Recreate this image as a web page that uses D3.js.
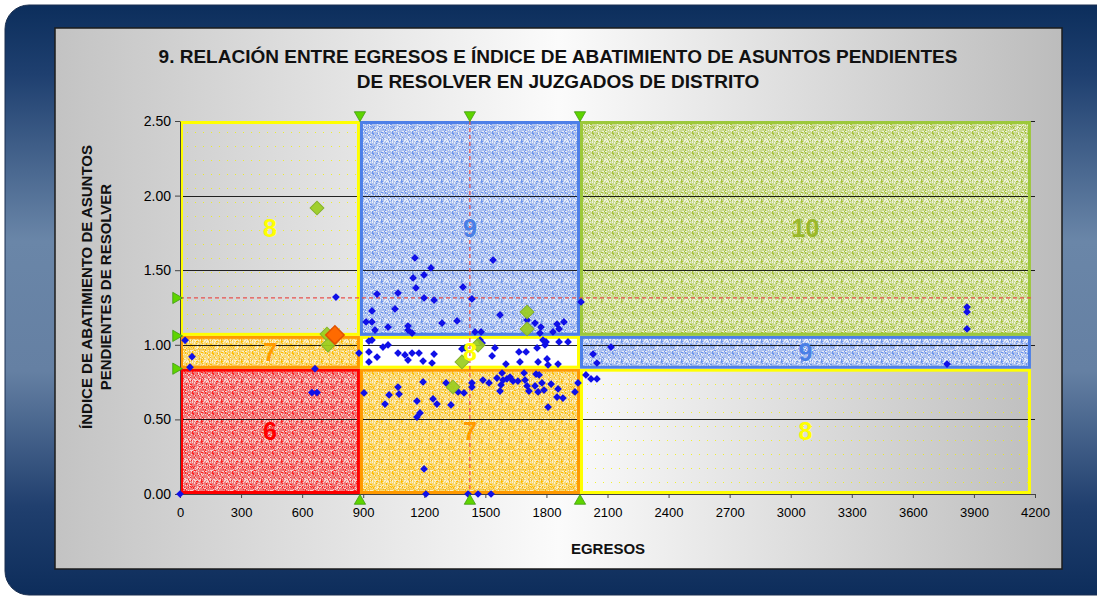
<!DOCTYPE html>
<html><head><meta charset="utf-8">
<script src="https://cdn.jsdelivr.net/npm/d3@7/dist/d3.min.js"></script>
<style>html,body{margin:0;padding:0;background:#fff;overflow:hidden}svg{display:block;font-family:Arial,"Liberation Sans",sans-serif}</style>
</head><body><svg id="chart" width="1097" height="598"></svg>
<script>
// ---------- DATA ----------
const titleLines = ["9. RELACIÓN ENTRE EGRESOS E ÍNDICE DE ABATIMIENTO DE ASUNTOS PENDIENTES", "DE RESOLVER EN JUZGADOS DE DISTRITO"];
const yTitleLines = ["ÍNDICE DE ABATIMIENTO DE ASUNTOS", "PENDIENTES DE RESOLVER"];
const xTitle = "EGRESOS";
const xTickValues = [0,300,600,900,1200,1500,1800,2100,2400,2700,3000,3300,3600,3900,4200];
const yTickValues = [0,0.5,1,1.5,2,2.5];
const xBounds = [0, 884, 1965, 4180];        // zone limits on EGRESOS
const yBounds = [0, 0.84, 1.06, 2.5];        // zone limits on índice
const zoneLabels = [["6","7","8"], ["7","8","9"], ["8","9","10"]]; // rows bottom→top, cols left→right
const meanX = 1424;
const meanY = 1.314;
const juzgados = [
 [25,1.03],[59,0.92],[49,0.85],[766,1.32],[761,1.08],[648,0.68],[673,0.68],[663,0.84],[879,0.945],[0,0],
 [1154,1.582],[1538,1.568],[1233,1.515],[1199,1.468],[1145,1.448],[1159,1.381],[1390,1.387],[968,1.340],[1071,1.347],[1199,1.314],
 [1248,1.300],[1434,1.307],[943,1.227],[1056,1.240],[1572,1.200],[1705,1.166],[1886,1.153],[914,1.153],[943,1.153],[1022,1.119],
 [1120,1.126],[1287,1.146],[1361,1.160],[958,1.099],[1744,1.146],[1773,1.119],[1852,1.139],[1862,1.106],[1832,1.086],[1120,1.099],
 [1449,1.086],[1479,1.086],[1140,1.079],[1970,1.287],[1768,1.079],
 [928,1.025],[943,1.032],[997,0.985],[1022,0.999],[928,0.952],[968,0.918],[928,0.885],[1071,0.945],[1105,0.932],[1120,0.898],
 [1140,0.945],[1174,0.945],[1194,0.891],[1238,0.878],[1248,0.938],[1385,0.972],[1400,0.979],[1474,1.032],[1484,1.012],[1533,0.925],
 [1547,0.979],[1601,0.871],[1665,0.952],[1700,0.952],[1670,0.885],[1754,0.979],[1759,0.885],[1793,0.999],[1798,1.019],[1783,1.032],
 [1803,0.905],[1808,0.865],[1862,1.019],[1906,1.019],[1857,0.871],
 [904,0.677],[1007,0.603],[1071,0.717],[1076,0.670],[1027,0.664],[1164,0.623],[1179,0.543],[1164,0.516],[1194,0.751],[1243,0.637],
 [1262,0.603],[1307,0.744],[1331,0.597],[1366,0.684],[1395,0.677],[1434,0.744],[1434,0.717],[1488,0.764],[1518,0.744],[1557,0.777],
 [1582,0.811],[1577,0.731],[1572,0.690],[1587,0.764],[1606,0.771],[1621,0.784],[1636,0.757],[1660,0.757],[1690,0.811],[1695,0.764],
 [1705,0.724],[1714,0.690],[1749,0.804],[1764,0.798],[1744,0.724],[1759,0.684],[1778,0.744],[1788,0.697],[1823,0.737],[1857,0.704],
 [1852,0.650],[1881,0.643],[1940,0.684],[1808,0.583],[1955,0.744],[1199,0.168],[1208,0],[1415,0],[1464,0],[1528,0],
 [2029,0.938],[2048,0.878],[2117,0.985],[3768,0.871],[3866,1.253],[3866,1.220],[3866,1.106],[1994,0.798],[2019,0.771],[2048,0.771]
];
const circuitos = [[673,1.917],[722,1.072],[727,0.998],[1705,1.220],[1705,1.106],[1464,0.998],[1385,0.885],[1341,0.717]];
const destacado = [[761,1.066]];

// ---------- LAYOUT ----------
const svg = d3.select("#chart");
const plot = {left:180, right:1035, top:121, bottom:494};
const x = d3.scaleLinear().domain([0,4200]).range([plot.left, plot.right]);
const y = d3.scaleLinear().domain([0,2.5]).range([plot.bottom, plot.top]);
const defs = svg.append("defs");

const fg = defs.append("linearGradient").attr("id","frameGrad").attr("x1",0).attr("y1",0).attr("x2",0).attr("y2",1);
[[0,"#0c2e5c"],[0.12,"#1f4070"],[0.4,"#6a86a8"],[0.62,"#6580a3"],[0.85,"#203f6e"],[1,"#0d2d5b"]].forEach(s=>fg.append("stop").attr("offset",s[0]).attr("stop-color",s[1]));
const pg = defs.append("linearGradient").attr("id","panelGrad").attr("x1",0).attr("y1",0).attr("x2",1).attr("y2",0);
[[0,"#c3c3c3"],[0.5,"#fbfbfb"],[1,"#bcbcbc"]].forEach(s=>pg.append("stop").attr("offset",s[0]).attr("stop-color",s[1]));

// speckled texture fills: average tone + light and dark speckles (deterministic sequence)
function speckle(id, base, light, dark, n){
  const p = defs.append("pattern").attr("id",id).attr("width",n).attr("height",n).attr("patternUnits","userSpaceOnUse");
  p.append("rect").attr("width",n).attr("height",n).attr("fill",base);
  let s = 20231;
  for(let j=0;j<n;j++) for(let i=0;i<n;i++){
    s = (s*1103515245 + 12345) % 2147483648;
    const v = Math.floor(s/65536)%100;
    if(v < 22) p.append("rect").attr("x",i).attr("y",j).attr("width",1).attr("height",1).attr("fill",light);
    else if(v > 80) p.append("rect").attr("x",i).attr("y",j).attr("width",1).attr("height",1).attr("fill",dark);
  }
}
speckle("spRed", "#ef7a7a", "#f9d0d0", "#ff2020", 20);
speckle("spOrange", "#f8d874", "#fcf0cc", "#ffbb00", 20);
speckle("spBlue", "#adc1ee", "#e6ecfa", "#6b93ec", 20);
speckle("spGreen", "#cbda92", "#eef2da", "#a5c238", 20);
(function(){
  const p = defs.append("pattern").attr("id","spYellow").attr("width",8).attr("height",14).attr("patternUnits","userSpaceOnUse");
  p.append("rect").attr("x",3).attr("y",6).attr("width",1).attr("height",1).attr("fill","#f2f200").attr("opacity",0.8);
  const g = defs.append("pattern").attr("id","gridOrange").attr("width",10).attr("height",10).attr("patternUnits","userSpaceOnUse");
  g.append("rect").attr("x",9).attr("y",0).attr("width",1).attr("height",10).attr("fill","rgba(240,165,0,0.35)");
  g.append("rect").attr("x",0).attr("y",9).attr("width",10).attr("height",1).attr("fill","rgba(240,165,0,0.25)");
})();

// frame + panel
svg.append("rect").attr("x",5).attr("y",5).attr("width",1120).attr("height",590).attr("rx",24).attr("fill","url(#frameGrad)").attr("stroke","#1a2f50").attr("stroke-width",1);
svg.append("rect").attr("x",55).attr("y",28).attr("width",1007).attr("height",541).attr("fill","url(#panelGrad)").attr("stroke","#1c1c1c").attr("stroke-width",1.5);

// title
svg.append("g").selectAll("text").data(titleLines).join("text")
  .attr("x",558).attr("y",(d,i)=>63+i*25).attr("text-anchor","middle")
  .attr("font-size",19).attr("font-weight","bold").attr("fill","#111").text(d=>d);

// zones
const styleFor = {
  "6":{fill:"url(#spRed)", stroke:"#ff0000", color:"#ff0000"},
  "7":{fill:"url(#spOrange)", stroke:"#ff9900", color:"#ff9a00"},
  "8":{fill:"url(#spYellow)", stroke:"#ffff00", color:"#ffff00"},
  "9":{fill:"url(#spBlue)", stroke:"#4d7fe8", color:"#4a7fe6"},
  "10":{fill:"url(#spGreen)", stroke:"#9cc83a", color:"#9ab82a"}
};
const zones = [];
zoneLabels.forEach((row,r)=>row.forEach((lab,c)=>zones.push({r,c,lab,white:(r===1&&lab==="8"),x0:xBounds[c],x1:xBounds[c+1],y0:yBounds[r],y1:yBounds[r+1]})));
const zx = d=>x(d.x0)+1, zy = d=>y(d.y1)+1, zw = d=>x(d.x1)-x(d.x0)-2, zh = d=>y(d.y0)-y(d.y1)-2;
svg.append("g").selectAll("rect").data(zones).join("rect")
  .attr("x",zx).attr("y",zy).attr("width",zw).attr("height",zh)
  .attr("fill",d=> d.white ? "#ffffff" : styleFor[d.lab].fill);
svg.append("g").selectAll("rect").data(zones.filter(d=>d.lab==="7")).join("rect")
  .attr("x",zx).attr("y",zy).attr("width",zw).attr("height",zh).attr("fill","url(#gridOrange)");

// gridlines
svg.append("g").selectAll("line").data(yTickValues.filter(v=>v>0)).join("line")
  .attr("x1",plot.left).attr("x2",plot.right).attr("y1",d=>Math.round(y(d))+0.5).attr("y2",d=>Math.round(y(d))+0.5)
  .attr("stroke","#000").attr("stroke-opacity",0.85).attr("stroke-width",1);

// zone borders
svg.append("g").selectAll("rect").data(zones).join("rect")
  .attr("x",d=>x(d.x0)+1.5).attr("y",d=>y(d.y1)+1.5)
  .attr("width",d=>x(d.x1)-x(d.x0)-3).attr("height",d=>y(d.y0)-y(d.y1)-3)
  .attr("fill","none").attr("stroke",d=>styleFor[d.lab].stroke).attr("stroke-width",3);

// mean lines
svg.append("line").attr("x1",x(0)).attr("x2",x(xBounds[3])).attr("y1",y(meanY)).attr("y2",y(meanY))
  .attr("stroke","#e8524f").attr("stroke-width",1.2).attr("stroke-dasharray","4,3");
svg.append("line").attr("x1",x(meanX)).attr("x2",x(meanX)).attr("y1",y(2.5)).attr("y2",y(0))
  .attr("stroke","#e8524f").attr("stroke-width",1.2).attr("stroke-dasharray","4,3");

// axes
const xAxis = d3.axisBottom(x).tickValues(xTickValues).tickSize(4).tickSizeOuter(0).tickFormat(d3.format("d"));
const gx = svg.append("g").attr("transform",`translate(0,${plot.bottom})`).call(xAxis);
gx.selectAll("text").attr("font-size",13).attr("fill","#000").attr("dy","1.25em").attr("font-family","Arial,'Liberation Sans',sans-serif");
gx.selectAll("line,path").attr("stroke","#444");
const yAxis = d3.axisLeft(y).tickValues(yTickValues).tickSize(5).tickSizeOuter(0).tickFormat(d3.format(".2f"));
const gy = svg.append("g").attr("transform",`translate(${plot.left},0)`).call(yAxis);
gy.selectAll("text").attr("font-size",14).attr("fill","#000").attr("x",-9).attr("font-family","Arial,'Liberation Sans',sans-serif");
gy.selectAll("line,path").attr("stroke","#444");

// points
const diamond = (s)=>d3.symbol(d3.symbolSquare, s)();
svg.append("g").selectAll("path").data(juzgados).join("path")
  .attr("d",diamond(30)).attr("transform",d=>`translate(${x(d[0])},${y(d[1])}) rotate(45)`)
  .attr("fill","#1010e8");
svg.append("g").selectAll("path").data(circuitos).join("path")
  .attr("d",diamond(95)).attr("transform",d=>`translate(${x(d[0])},${y(d[1])}) rotate(45)`)
  .attr("fill","#9acd1e").attr("stroke","#86b030").attr("stroke-width",1).attr("fill-opacity",0.92);
svg.append("g").selectAll("path").data(destacado).join("path")
  .attr("d",diamond(170)).attr("transform",d=>`translate(${x(d[0])},${y(d[1])}) rotate(45)`)
  .attr("fill","#ff6a00").attr("stroke","#e05200").attr("stroke-width",1.5);

// zone labels
svg.append("g").selectAll("text").data(zones).join("text")
  .attr("x",d=>x((d.x0+d.x1)/2)).attr("y",d=>(y(d.y0)+y(d.y1))/2+9)
  .attr("text-anchor","middle").attr("font-size",25).attr("font-weight","bold")
  .attr("fill",d=>styleFor[d.lab].color).text(d=>d.lab);

// threshold markers (green triangles)
const tri = d3.symbol(d3.symbolTriangle, 55)();
const markX = [xBounds[1], meanX, xBounds[2]];
const markY = [meanY, yBounds[2], yBounds[1]];
const tg = svg.append("g").attr("fill","#5fd400").attr("stroke","#3f9a10").attr("stroke-width",0.8);
tg.selectAll(".tt").data(markX).join("path").attr("class","tt").attr("d",tri)
  .attr("transform",d=>`translate(${x(d)},${plot.top-6}) rotate(180)`);
tg.selectAll(".tb").data(markX).join("path").attr("class","tb").attr("d",tri)
  .attr("transform",d=>`translate(${x(d)},${plot.bottom+7})`);
tg.selectAll(".tl").data(markY).join("path").attr("class","tl").attr("d",tri)
  .attr("transform",d=>`translate(${plot.left-4},${y(d)}) rotate(90)`);

// axis titles
svg.append("text").attr("x",608).attr("y",554).attr("text-anchor","middle").attr("font-size",15).attr("font-weight","bold").attr("fill","#111").text(xTitle);
svg.append("g").selectAll("text").data(yTitleLines).join("text")
  .attr("transform",(d,i)=>`translate(${92+i*19},287) rotate(-90)`)
  .attr("text-anchor","middle").attr("font-size",15).attr("font-weight","bold").attr("fill","#111").text(d=>d);
</script></body></html>
